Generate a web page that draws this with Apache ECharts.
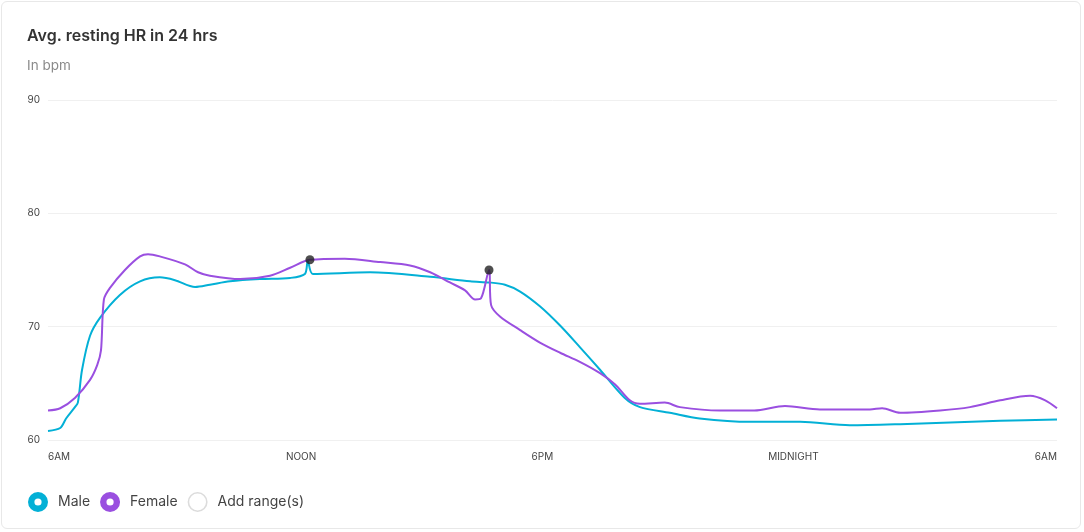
<!DOCTYPE html>
<html>
<head>
<meta charset="utf-8">
<script src="https://cdn.jsdelivr.net/npm/echarts@6/dist/echarts.min.js"></script>
<style>
html,body{margin:0;padding:0;background:#fff;}
#card{position:absolute;left:1px;top:1px;width:1080px;height:528px;border:1px solid #e8e8e8;border-radius:6px;box-sizing:border-box;}
#chart{position:absolute;left:0;top:0;width:1084px;height:532px;}
</style>
</head>
<body>
<div id="card"></div>
<div id="chart"></div>
<script>
// x in hours since 6AM (0..24)
const xTickLabels = ['6AM', 'NOON', '6PM', 'MIDNIGHT', '6AM'];
const xTickHours = [0, 6.02, 11.76, 17.73, 24];
const yTicks = [60, 70, 80, 90];

const maleHours = [0, 0.29, 0.43, 0.64, 0.71, 0.81, 1.0, 1.24, 1.71, 2.19, 2.66, 3.02, 3.5, 3.85, 4.33, 5.04, 5.76, 6.11, 6.18, 6.3, 7.66, 9.09, 10.04, 10.5, 10.87, 11.23, 11.7, 12.18, 12.65, 13.13, 13.72, 14.08, 14.79, 15.5, 16.7, 17.89, 19.07, 20.27, 22.65, 24];
const maleValues = [60.8, 61.06, 61.9, 62.9, 63.3, 66.2, 69.2, 70.8, 72.8, 74.0, 74.35, 74.1, 73.5, 73.7, 74.0, 74.2, 74.3, 74.65, 75.8, 74.65, 74.8, 74.4, 74.0, 73.9, 73.7, 73.1, 71.8, 70.1, 68.2, 66.2, 63.7, 62.9, 62.4, 61.9, 61.6, 61.6, 61.3, 61.4, 61.7, 61.8];

const femaleHours = [0, 0.29, 0.64, 1.0, 1.17, 1.26, 1.33, 1.47, 1.83, 2.19, 2.38, 2.66, 3.26, 3.57, 3.85, 4.57, 5.28, 5.76, 6.23, 7.06, 7.9, 8.61, 9.09, 9.56, 9.92, 10.16, 10.3, 10.49, 10.54, 10.75, 11.23, 11.7, 12.18, 12.65, 13.13, 13.49, 13.84, 14.08, 14.67, 15.03, 15.98, 16.8, 17.53, 18.36, 19.55, 19.84, 20.27, 21.22, 21.93, 22.65, 23.36, 23.72, 24];
const femaleValues = [62.6, 62.8, 63.7, 65.3, 66.6, 67.9, 72.4, 73.4, 75.0, 76.2, 76.4, 76.2, 75.5, 74.8, 74.5, 74.2, 74.5, 75.2, 75.9, 76.0, 75.7, 75.4, 74.8, 73.9, 73.2, 72.4, 72.5, 75.0, 71.9, 70.9, 69.7, 68.6, 67.7, 66.9, 65.9, 64.9, 63.5, 63.2, 63.3, 62.9, 62.6, 62.6, 63.0, 62.7, 62.7, 62.8, 62.4, 62.6, 62.9, 63.5, 63.9, 63.5, 62.8];

const peakHours = [6.23, 10.49];
const peakValues = [75.9, 75.0];

const maleColor = '#03b0d6';
const femaleColor = '#9a4fe0';

const ringThick = 'path://M0,10 A10,10 0 1,0 20,10 A10,10 0 1,0 0,10 Z M6.4,10 A3.6,3.6 0 1,1 13.6,10 A3.6,3.6 0 1,1 6.4,10 Z';
const ringThin = 'path://M0,10 A10,10 0 1,0 20,10 A10,10 0 1,0 0,10 Z M1.6,10 A8.4,8.4 0 1,1 18.4,10 A8.4,8.4 0 1,1 1.6,10 Z';

const chart = echarts.init(document.getElementById('chart'), null, {renderer:'canvas'});
const zip = (a,b)=>a.map((v,i)=>[v,b[i]]);
chart.setOption({
  animation:false,
  textStyle:{fontFamily:'Inter'},
  title:[
    {text:'Avg. resting HR in 24 hrs', left:27, top:28, padding:0, textStyle:{fontFamily:'Inter', fontSize:16, fontWeight:600, color:'#333'}},
    {text:'In bpm', left:27, top:59, padding:0, textStyle:{fontFamily:'Inter', fontSize:13.5, fontWeight:400, color:'#8a8a8a'}}
  ],
  grid:{left:48, right:27, top:100, bottom:92},
  xAxis:{
    type:'value', min:0, max:24,
    axisLine:{show:false}, axisTick:{show:false}, splitLine:{show:false},
    axisLabel:{color:'#444', fontSize:10, margin:12, fontFamily:'Inter',
      customValues: xTickHours,
      formatter:v=>{const i=xTickHours.indexOf(v); return i>=0?xTickLabels[i]:'';},
      alignMinLabel:'left', alignMaxLabel:'right'}
  },
  yAxis:{
    type:'value', min:60, max:90, interval:10,
    axisLine:{show:false}, axisTick:{show:false},
    splitLine:{lineStyle:{color:'#f0f0f0', width:1}},
    axisLabel:{color:'#444', fontSize:10, margin:8, fontFamily:'Inter'}
  },
  legend:{
    left:28, top:492, padding:0, itemWidth:20, itemHeight:20, itemGap:10,
    textStyle:{fontFamily:'Inter', fontSize:14, color:'#444', padding:[0,0,0,5]},
    data:[
      {name:'Male', icon:ringThick, itemStyle:{color:maleColor, borderWidth:0}},
      {name:'Female', icon:ringThick, itemStyle:{color:femaleColor, borderWidth:0}},
      {name:'Add range(s)', icon:ringThin, itemStyle:{color:'#dcdcdc', borderWidth:0}}
    ],
    selectedMode:false
  },
  series:[
    {name:'Male', type:'line', data:zip(maleHours, maleValues), smooth:0.3, showSymbol:false, symbol:'none',
      lineStyle:{color:maleColor, width:2}, itemStyle:{color:maleColor}, z:2},
    {name:'Female', type:'line', data:zip(femaleHours, femaleValues), smooth:0.3, showSymbol:false, symbol:'none',
      lineStyle:{color:femaleColor, width:2}, itemStyle:{color:femaleColor}, z:3},
    {name:'Add range(s)', type:'line', data:[]},
    {name:'peaks', type:'scatter', data:zip(peakHours, peakValues), symbolSize:9, itemStyle:{color:'#222'}, z:5}
  ]
});
</script>
</body>
</html>
